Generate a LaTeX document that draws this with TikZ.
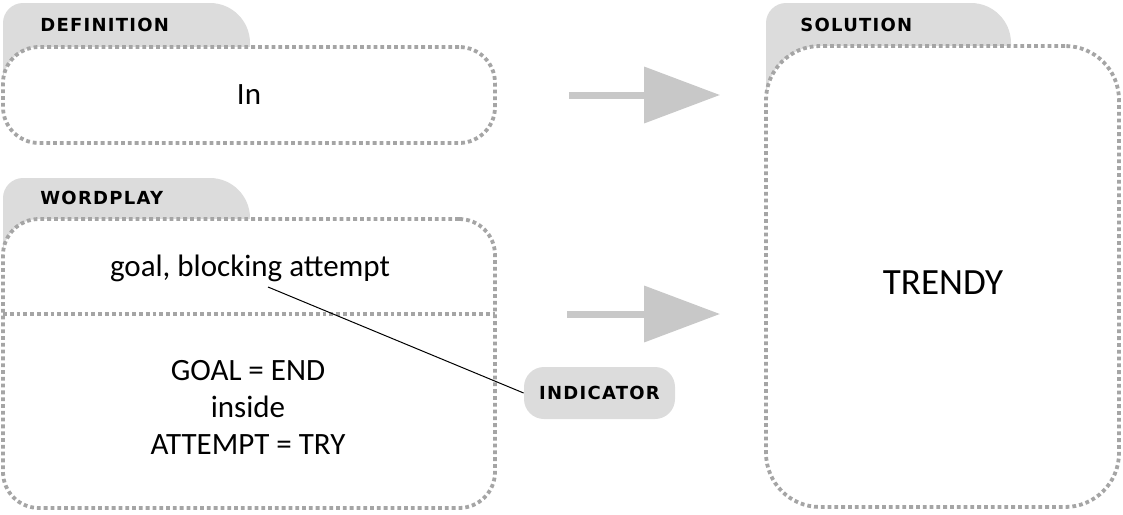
\documentclass[tikz,border=0pt]{standalone}
\usepackage{fontspec}
\setmainfont{Carlito}
\newfontfamily\tabfont[LetterSpace=7]{DejaVu Sans}
\usetikzlibrary{arrows.meta}
\definecolor{tabgray}{RGB}{220,220,220}
\definecolor{dotgray}{RGB}{165,165,165}
\definecolor{arrowgray}{RGB}{200,200,200}
\newcommand{\foldertab}[4]{%
  \fill[tabgray] (#1,#4) -- (#1,#3+20) .. controls (#1,#3+9) and (#1+9,#3) .. (#1+20,#3)
    -- (#2-40,#3) .. controls (#2-18,#3) and (#2,#3+18) .. (#2,#3+40) -- (#2,#4) -- cycle;}

\begin{document}
\begin{tikzpicture}[x=0.5pt,y=-0.5pt,
    dotbox/.style={draw=dotgray, line width=1.9pt, dash pattern=on 1.9pt off 1.5pt, fill=white, rounded corners=18pt, inner sep=0pt},
    dotline/.style={draw=dotgray, line width=1.9pt, dash pattern=on 1.9pt off 1.5pt},
    tablabel/.style={font=\tabfont\bfseries\fontsize{9}{11}\selectfont, inner sep=0pt},
    bodytext/.style={font=\fontsize{15.5}{18.5}\selectfont, align=center},
    bigarrow/.style={arrowgray, line width=3.5pt, -{Triangle[length=38pt,width=27.5pt]}}]
    \useasboundingbox (0,0) rectangle (1123,514);

    \foldertab{3}{250}{3}{110}
    \foldertab{3}{250}{178}{280}
    \foldertab{766}{1011}{3}{160}

    \node (defbox) [dotbox, minimum width=246pt, minimum height=48pt, bodytext] at (249,95) {In};
    \node (wpbox) [dotbox, minimum width=246pt, minimum height=144.5pt] at (249,363.5) {};
    \node (solbox) [dotbox, rounded corners=27pt, minimum width=176.5pt, minimum height=230.5pt] at (942.5,276.5) {};
    \node (answer) [font=\fontsize{18.5}{20}\selectfont] at (943,283) {TRENDY};

    \node (deftab) [tablabel, anchor=west] at (40,25) {DEFINITION};
    \node (wptab) [tablabel, anchor=west] at (40,198) {WORDPLAY};
    \node (soltab) [tablabel, anchor=west] at (800,25) {SOLUTION};

    \coordinate (sepl) at (3,314);
    \coordinate (sepr) at (495,314);
    \draw[dotline] (sepl) -- (sepr);

    \node (clue) [bodytext] at (250,268) {goal, blocking attempt};
    \node (parse) [bodytext] at (248,407) {GOAL = END\\inside\\ATTEMPT = TRY};

    \node (indicator) [fill=tabgray, rounded corners=10pt, minimum width=75.5pt, minimum height=26pt, tablabel] at (599.5,393) {INDICATOR};
    \coordinate (lead) at (268,287);
    \draw[line width=0.5pt] (lead) -- (indicator.west);

    \draw[bigarrow, shorten <=36pt, shorten >=22pt] (defbox.east) -- (defbox.east -| solbox.west);
    \draw[bigarrow, shorten <=36pt, shorten >=22pt] (sepr) -- (sepr -| solbox.west);
\end{tikzpicture}
\end{document}
